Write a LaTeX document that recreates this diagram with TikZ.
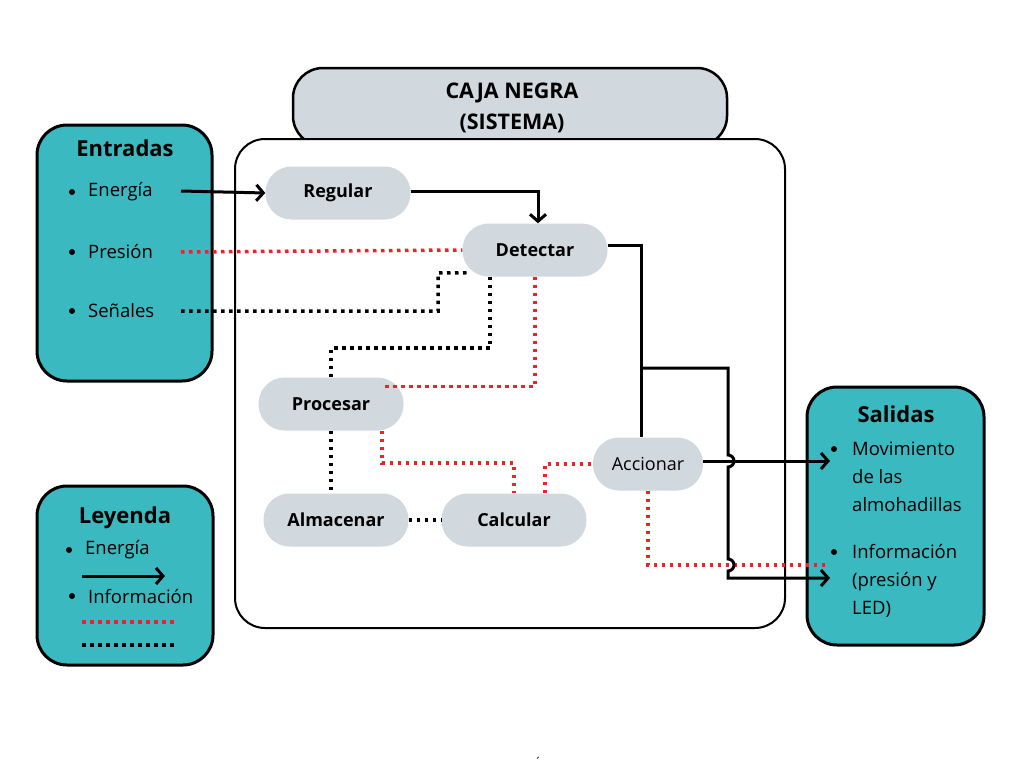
\documentclass[tikz,border=0pt]{standalone}
\usepackage{fontspec}
\setmainfont{Open Sans}
\usetikzlibrary{arrows.meta}
\definecolor{turquesa}{HTML}{3BB9C0}
\definecolor{gris}{HTML}{D1D8DE}
\definecolor{rojo}{HTML}{E8252B}
\begin{document}
\begin{tikzpicture}[x=1pt,y=-1pt,
    caja/.style={draw,line width=3pt,fill=turquesa,rounded corners=30pt},
    paso/.style={fill=gris,rounded corners=26pt,minimum width=145pt,minimum height=53pt,font=\fontsize{18}{21}\selectfont\bfseries},
    energia/.style={line width=3pt,-{Straight Barb[length=7pt,width=16pt]}},
    linea/.style={line width=3pt},
    info/.style={line width=3.5pt,dash pattern=on 3.5pt off 4.5pt},
    rinfo/.style={info,rojo},
    ninfo/.style={info,black},
    titulo/.style={font=\fontsize{22}{26}\selectfont\bfseries},
    texto/.style={font=\fontsize{18.5}{28}\selectfont,anchor=west,align=left,inner sep=0pt},
    punto/.style={circle,fill=black,inner sep=0pt,minimum size=6pt}]
    \useasboundingbox (0,0) rectangle (1024,768);
    \draw[caja] (37,125) rectangle (212,381);
    \draw[caja] (37,486) rectangle (213,665);
    \draw[caja] (807,387) rectangle (984,645);
    \draw[line width=2.5pt,fill=gris,rounded corners=30pt] (293,68) rectangle (727,146);
    \draw[line width=2pt,fill=white,rounded corners=30pt] (235,139) rectangle (785,628);
    \node[align=center,font=\fontsize{21.5}{31}\selectfont\bfseries] (tit) at (512,108) {CAJA NEGRA\\(SISTEMA)};
    \node[titulo] (ent) at (125,148) {Entradas};
    \node[punto] (b1) at (72,192) {}; \node[texto] (ener) at (88,192) {Energía};
    \node[punto] (b2) at (72,252) {}; \node[texto] (pres) at (88,252) {Presión};
    \node[punto] (b3) at (72,311) {}; \node[texto] (sen) at (88,311) {Señales};
    \node[titulo] (ley) at (125,518) {Leyenda};
    \node[punto] (b4) at (69,550) {}; \node[texto] (lener) at (85,550) {Energía};
    \node[punto] (b5) at (72,596) {}; \node[texto] (linf) at (88,596) {Información};
    \node[titulo] (sal) at (896,414) {Salidas};
    \node[punto] (b6) at (834,449) {}; \node[texto] (mov) at (852,477) {Movimiento\\de las\\almohadillas};
    \node[punto] (b7) at (834,552) {}; \node[texto] (inf) at (852,581) {Información\\(presión y\\LED)};
    \node[paso] (reg) at (338,193) {Regular};
    \node[paso] (det) at (535,250) {Detectar};
    \node[paso] (proc) at (331,404) {Procesar};
    \node[paso] (alm) at (336,520) {Almacenar};
    \node[paso] (calc) at (514,520) {Calcular};
    \node[paso,minimum width=110pt,font=\fontsize{18}{21}\selectfont] (acc) at (648,464) {Accionar};
    \node[font=\fontsize{12}{12}\selectfont,inner sep=0pt,anchor=south] (tilde) at (538,767) {´};
    \coordinate (e1) at (181,191);
    \coordinate (p1) at (181,252);
    \coordinate (s1) at (181,311);
    \coordinate (s2) at (438,273);
    \coordinate (j1) at (641,368);
    \coordinate (j2) at (728,368);
    \coordinate (out1) at (830,461);
    \coordinate (out2) at (830,578);
    \coordinate (out3) at (826,565);
    \coordinate (la1) at (82,576); \coordinate (la2) at (165,576);
    \coordinate (lr1) at (82,622); \coordinate (lr2) at (178,622);
    \coordinate (ln1) at (82,645); \coordinate (ln2) at (178,645);
    \draw[energia] (e1) -- (reg.west);
    \draw[energia] ([yshift=2pt]reg.east) -| ([xshift=3pt]det.north);
    \draw[rinfo] (p1) -- (det.west);
    \draw[ninfo] (s1) -| (s2) -- ([xshift=8pt,yshift=4pt]det.south west);
    \draw[ninfo] ([xshift=-45pt]det.south) -- ++(0,71.5) -| (proc.north);
    \draw[rinfo] (det.south) |- ([xshift=-20pt,yshift=-9pt]proc.north east);
    \draw[ninfo] (proc.south) -- (proc.south |- alm.north);
    \draw[rinfo] ([xshift=51pt]proc.south) -- ++(0,32.5) -| (calc.north);
    \draw[rinfo] ([xshift=31pt]calc.north) |- (acc.west);
    \draw[ninfo] (alm.east) -- (calc.west);
    \draw[linea] ([yshift=5pt]det.east) -| ([xshift=-7pt]acc.north);
    \draw[energia] ([yshift=3pt]acc.east) -- (out1);
    \draw[rinfo] (acc.south) |- (out3);
    \draw[energia] (j1) -- (j2) -- (728,455) arc[start angle=90,end angle=-90,radius=6pt] -- (728,559) arc[start angle=90,end angle=-90,radius=6pt] -- (728,578) -- (out2);
    \draw[energia] (la1) -- (la2);
    \draw[rinfo] (lr1) -- (lr2);
    \draw[ninfo] (ln1) -- (ln2);
\end{tikzpicture}
\end{document}
